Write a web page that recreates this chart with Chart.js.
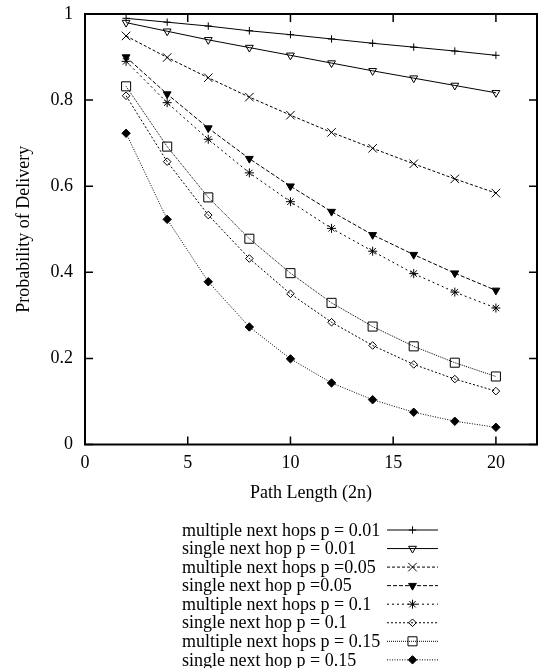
<!DOCTYPE html>
<html><head><meta charset="utf-8">
<script src="https://cdn.jsdelivr.net/npm/chart.js@4.4.0/dist/chart.umd.min.js"></script>
<style>html,body{margin:0;padding:0;background:#fff;}</style>
</head><body>
<canvas id="c" width="538" height="668" style="display:block;width:538px;height:668px"></canvas>
<script>
// ---- data ----
const pathLength = [2, 4, 6, 8, 10, 12, 14, 16, 18, 20];
const multi001  = [0.990, 0.981, 0.972, 0.961, 0.952, 0.942, 0.932, 0.923, 0.914, 0.904];
const single001 = [0.980, 0.960, 0.940, 0.922, 0.904, 0.886, 0.868, 0.851, 0.834, 0.817];
const multi005  = [0.949, 0.899, 0.852, 0.807, 0.765, 0.725, 0.688, 0.652, 0.617, 0.584];
const single005 = [0.900, 0.814, 0.735, 0.664, 0.600, 0.541, 0.487, 0.441, 0.398, 0.358];
const multi01   = [0.890, 0.794, 0.709, 0.631, 0.564, 0.502, 0.449, 0.397, 0.354, 0.317];
const single01  = [0.810, 0.657, 0.533, 0.432, 0.350, 0.284, 0.230, 0.186, 0.152, 0.124];
const multi015  = [0.832, 0.692, 0.574, 0.478, 0.398, 0.329, 0.274, 0.228, 0.190, 0.158];
const single015 = [0.723, 0.523, 0.378, 0.273, 0.199, 0.143, 0.104, 0.075, 0.054, 0.040];
const seriesLabels = [
  'multiple next hops p = 0.01',
  'single next hop p = 0.01',
  'multiple next hops p =0.05',
  'single next hop p =0.05',
  'multiple next hops p = 0.1',
  'single next hop p = 0.1',
  'multiple next hops p = 0.15',
  'single next hop p = 0.15'
];
const xTicks = [0, 5, 10, 15, 20];
const yTicks = [0, 0.2, 0.4, 0.6, 0.8, 1];
const xTitle = 'Path Length (2n)';
const yTitle = 'Probability of Delivery';

// ---- styling ----
const FONT = "'Liberation Serif', 'Times New Roman', Times, serif";
Chart.defaults.font.family = FONT;
Chart.defaults.font.size = 18;
Chart.defaults.color = '#000';

const seriesValues = [multi001, single001, multi005, single005, multi01, single01, multi015, single015];
const styles = [
  {ps:'cross',    r:3.7, rot:0,   fill:false, dash:[]},
  {ps:'triangle', r:4.5, rot:180, fill:false, dash:[]},
  {ps:'crossRot', r:6,   rot:0,   fill:false, dash:[3,2]},
  {ps:'triangle', r:4.5, rot:180, fill:true,  dash:[4,2]},
  {ps:'star',     r:4.5, rot:0,   fill:false, dash:[2,3]},
  {ps:'rectRot',  r:3.8, rot:0,   fill:false, dash:[2,2]},
  {ps:'rect',     r:6.4, rot:0,   fill:false, dash:[1,1]},
  {ps:'rectRot',  r:4.2, rot:0,   fill:true,  dash:[1,1.5]}
];

const datasets = seriesValues.map((vals, i) => {
  const s = styles[i];
  return {
    label: seriesLabels[i],
    data: pathLength.map((x, j) => ({x, y: vals[j]})),
    borderColor: '#000',
    borderWidth: 1,
    borderDash: s.dash,
    fill: false,
    tension: 0,
    pointStyle: s.ps,
    pointRadius: s.r,
    pointHoverRadius: s.r,
    pointRotation: s.rot,
    pointBorderColor: '#000',
    pointBorderWidth: 1,
    pointBackgroundColor: s.fill ? '#000' : 'rgba(0,0,0,0)'
  };
});

const framePlugin = {
  id: 'frame',
  afterDatasetsDraw(chart) {
    const {ctx, chartArea: a, scales: {x, y}} = chart;
    ctx.save();
    ctx.setLineDash([]);
    ctx.strokeStyle = '#000';
    ctx.lineWidth = 1.5;
    const L = 8;
    ctx.beginPath();
    x.ticks.forEach(t => {
      if (t.value === 0) return;
      const px = x.getPixelForValue(t.value);
      ctx.moveTo(px, a.bottom); ctx.lineTo(px, a.bottom - L);
      ctx.moveTo(px, a.top); ctx.lineTo(px, a.top + L);
    });
    y.ticks.forEach(t => {
      const py = y.getPixelForValue(t.value);
      ctx.moveTo(a.left, py); ctx.lineTo(a.left + L, py);
      ctx.moveTo(a.right, py); ctx.lineTo(a.right - L, py);
    });
    ctx.stroke();
    ctx.lineWidth = 2;
    ctx.strokeRect(a.left, a.top, a.right - a.left, a.bottom - a.top);
    ctx.restore();
  }
};

const legendPlugin = {
  id: 'gpLegend',
  afterDraw(chart) {
    const ctx = chart.ctx;
    const x0 = 182, y0 = 530, dy = 18.55, lx1 = 387, lx2 = 438, mx = 412.5;
    ctx.save();
    ctx.font = '18px ' + FONT;
    ctx.textBaseline = 'middle';
    ctx.textAlign = 'left';
    chart.data.datasets.forEach((ds, i) => {
      const yy = y0 + i * dy;
      ctx.fillStyle = '#000';
      ctx.fillText(ds.label, x0, yy + 1);
      ctx.strokeStyle = ds.borderColor;
      ctx.lineWidth = ds.borderWidth;
      ctx.setLineDash(ds.borderDash || []);
      ctx.beginPath();
      ctx.moveTo(lx1, yy); ctx.lineTo(lx2, yy);
      ctx.stroke();
      ctx.setLineDash([]);
      ctx.fillStyle = ds.pointBackgroundColor;
      ctx.strokeStyle = ds.pointBorderColor;
      ctx.lineWidth = ds.pointBorderWidth;
      if (Chart.helpers && Chart.helpers.drawPoint) {
        Chart.helpers.drawPoint(ctx, {
          pointStyle: ds.pointStyle, rotation: ds.pointRotation,
          radius: ds.pointRadius, borderWidth: ds.pointBorderWidth
        }, mx, yy);
      }
    });
    ctx.restore();
  }
};

function zeroPad(s) { s.paddingTop = 0; s.paddingBottom = 0; s.paddingLeft = 0; s.paddingRight = 0; }

new Chart(document.getElementById('c'), {
  type: 'line',
  data: { datasets },
  plugins: [framePlugin, legendPlugin],
  options: {
    responsive: false,
    animation: false,
    devicePixelRatio: 1,
    layout: { autoPadding: false, padding: { left: 0, right: 1, top: 14, bottom: 160 } },
    plugins: { legend: { display: false }, tooltip: { enabled: false } },
    scales: {
      x: {
        type: 'linear', min: 0, max: 22,
        afterBuildTicks: s => { s.ticks = xTicks.map(v => ({value: v})); },
        ticks: { padding: 8, font: { size: 18 }, color: '#000', callback: v => String(v) },
        grid: { display: false, drawTicks: false },
        border: { display: false },
        title: { display: true, text: xTitle, padding: { top: 4, bottom: 4 }, font: { size: 18 }, color: '#000' },
        afterFit: s => { s.height = 63.5; zeroPad(s); }
      },
      y: {
        type: 'linear', min: 0, max: 1,
        afterBuildTicks: s => { s.ticks = yTicks.map(v => ({value: v})); },
        ticks: { padding: 12, font: { size: 18 }, color: '#000', callback: v => String(v) },
        grid: { display: false, drawTicks: false },
        border: { display: false },
        title: { display: true, text: yTitle, padding: { top: 13, bottom: 0 }, font: { size: 18 }, color: '#000' },
        afterFit: s => { s.width = 85; zeroPad(s); }
      }
    }
  }
});
</script>
</body></html>
